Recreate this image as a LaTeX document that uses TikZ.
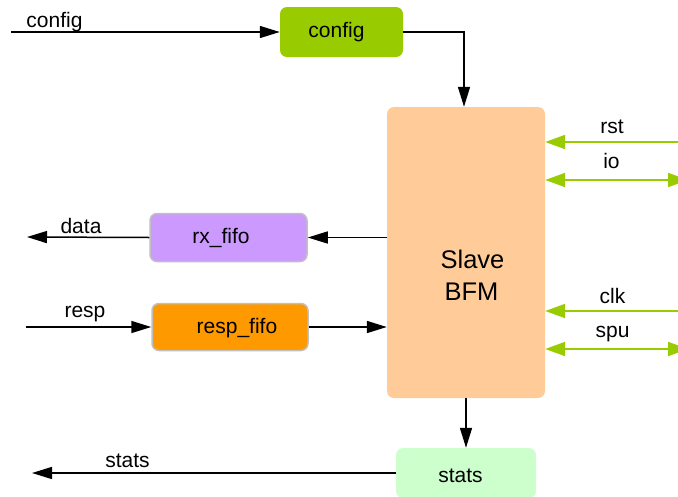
\documentclass[tikz,border=0pt]{standalone}
\usepackage{fontspec}
\setmainfont{Liberation Sans}
\usetikzlibrary{arrows.meta}
\definecolor{cfggreen}{HTML}{99CC00}
\definecolor{bfmorange}{HTML}{FFCC99}
\definecolor{rxpurple}{HTML}{CC99FF}
\definecolor{resporange}{HTML}{FF9900}
\definecolor{statsgreen}{HTML}{CCFFCC}
\definecolor{boxborder}{HTML}{C0C0C0}
\begin{document}
\begin{tikzpicture}[x=1pt,y=-1pt,
  box/.style={rounded corners=7pt, inner sep=0pt, anchor=center},
  bordered/.style={draw=boxborder, line width=1.5pt},
  lbl/.style={anchor=base, inner sep=0pt, font=\fontsize{21}{25}\selectfont},
  biglbl/.style={anchor=base, inner sep=0pt, font=\fontsize{25.5}{30}\selectfont},
  blk/.style={draw=black, line width=1.5pt, -{Triangle[length=20pt,width=12pt]}},
  grn/.style={draw=cfggreen, line width=2pt, -{Triangle[length=20pt,width=14pt]}},
  grnb/.style={draw=cfggreen, line width=2pt, {Triangle[length=20pt,width=14pt]}-{Triangle[length=20pt,width=14pt]}}
]
\useasboundingbox (0,0) rectangle (678,496);

% boxes
\node[box, fill=cfggreen, minimum width=123pt, minimum height=50pt] (config) at (341.5,32) {};
\node[box, fill=bfmorange, minimum width=158pt, minimum height=291pt] (bfm) at (466,252.5) {};
\node[box, bordered, fill=rxpurple, minimum width=157pt, minimum height=48pt] (rx) at (228.5,237.5) {};
\node[box, bordered, fill=resporange, minimum width=156pt, minimum height=47pt] (resp) at (230,327) {};
\node[box, fill=statsgreen, minimum width=140pt, minimum height=50pt] (stats) at (466,473) {};

% box texts
\node[lbl] (configtxt) at (336.5,37) {config};
\node[biglbl] (slavetxt) at (472.5,268) {Slave};
\node[biglbl] (bfmtxt) at (471.5,300) {BFM};
\node[lbl] (rxtxt) at (221,243) {rx\_fifo};
\node[lbl] (resptxt) at (237,333) {resp\_fifo};
\node[lbl] (statstxt) at (460.5,482) {stats};

% free ends
\coordinate (cfgin) at (11,32);
\coordinate (dataout) at (27,237);
\coordinate (respin) at (26,327);
\coordinate (statsout) at (32,473);
\coordinate (rstin) at (678,142);
\coordinate (ioend) at (688,180);
\coordinate (clkin) at (678,311);
\coordinate (spuend) at (688,349);

% black connectors
\draw[blk] (cfgin) -- (config.west);
\draw[blk] (config.east) -| ([xshift=-2pt]bfm.north);
\draw[blk] (bfm.west |- rx.east) -- (rx.east);
\draw[blk] (rx.west) -- (dataout);
\draw[blk] (respin) -- (resp.west);
\draw[blk] (resp.east) -- (bfm.west |- resp.east);
\draw[blk] (bfm.south) -- (stats.north);
\draw[blk] (stats.west) -- (statsout);

% green connectors
\draw[grn] (rstin) -- (rstin -| bfm.east);
\draw[grnb] (ioend -| bfm.east) -- (ioend);
\draw[grn] (clkin) -- (clkin -| bfm.east);
\draw[grnb] (spuend -| bfm.east) -- (spuend);

% connector labels
\node[lbl] (lconfig) at (54.5,27) {config};
\node[lbl] (lrst) at (612,133) {rst};
\node[lbl] (lio) at (611.5,168) {io};
\node[lbl] (ldata) at (81,233) {data};
\node[lbl] (lresp) at (85,317) {resp};
\node[lbl] (lclk) at (612.5,303) {clk};
\node[lbl] (lspu) at (612.5,337) {spu};
\node[lbl] (lstats) at (127.5,467) {stats};
\end{tikzpicture}
\end{document}
